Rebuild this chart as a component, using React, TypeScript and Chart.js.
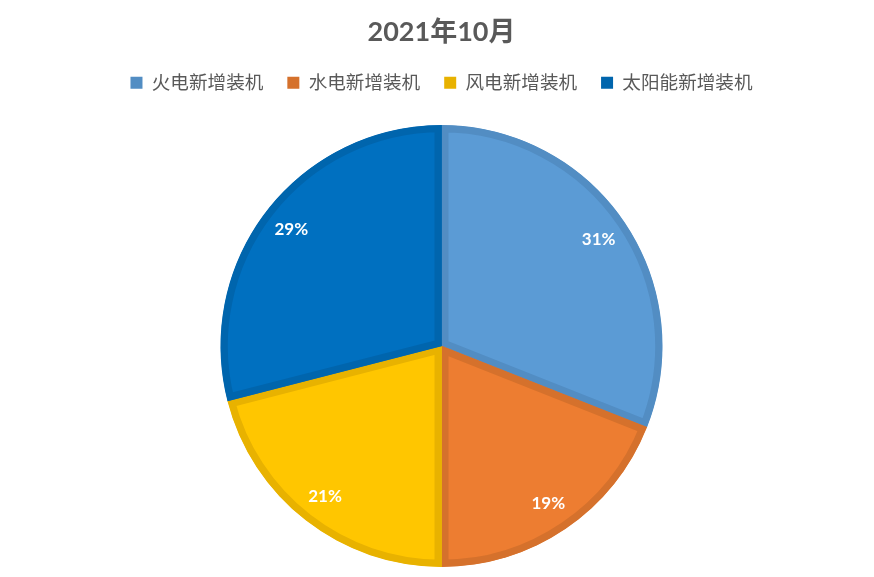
import React, { useEffect, useRef } from "react";
import { Chart, registerables } from "chart.js";

Chart.register(...registerables);

const titleText = "2021年10月";
const categories = ["火电新增装机", "水电新增装机", "风电新增装机", "太阳能新增装机"];
const values = [31, 19, 21, 29];
const fillColors = ["#5B9BD5", "#ED7D31", "#FFC600", "#0070C0"];
const borderColors = ["#528DC3", "#D5712C", "#E8B200", "#0065AD"];

const FONT = "Lato, 'Noto Sans CJK SC', sans-serif";

const legendGapPlugin = {
  id: "legendGap",
  beforeInit(chart: any) {
    const legend = chart.legend;
    if (legend) {
      const orig = legend.fit;
      legend.fit = function () {
        orig.call(this);
        this.height += 23;
      };
    }
  },
};

const pctLabelPlugin = {
  id: "pctLabels",
  afterDatasetsDraw(chart: any) {
    const ctx = chart.ctx;
    const meta = chart.getDatasetMeta(0);
    const data = chart.data.datasets[0].data as number[];
    const total = data.reduce((a, b) => a + b, 0);
    ctx.save();
    ctx.fillStyle = "#FFFFFF";
    ctx.font = `bold 17px ${FONT}`;
    ctx.textAlign = "center";
    ctx.textBaseline = "middle";
    meta.data.forEach((arc: any, i: number) => {
      const p = arc.getProps(["x", "y", "startAngle", "endAngle", "outerRadius"], true);
      const mid = (p.startAngle + p.endAngle) / 2;
      const r = p.outerRadius * 0.86;
      const pct = Math.round((data[i] / total) * 100);
      ctx.fillText(pct + "%", p.x + Math.cos(mid) * r, p.y + Math.sin(mid) * r);
    });
    ctx.restore();
  },
};

export default function App() {
  const ref = useRef<HTMLCanvasElement>(null);
  useEffect(() => {
    if (!ref.current) return;
    const chart = new Chart(ref.current, {
      type: "pie",
      data: {
        labels: categories,
        datasets: [
          {
            data: values,
            backgroundColor: fillColors,
            borderColor: borderColors,
            borderWidth: 7,
            borderAlign: "inner",
          } as any,
        ],
      },
      options: {
        responsive: false,
        animation: false,
        devicePixelRatio: 1,
        layout: { padding: { top: 0, bottom: 10, left: 9, right: 0 } },
        plugins: {
          title: {
            display: true,
            text: titleText,
            color: "#595959",
            font: { family: FONT, size: 27, weight: "bold" },
            padding: { top: 16, bottom: 1 },
          },
          legend: {
            display: true,
            position: "top",
            labels: {
              color: "#595959",
              font: { family: FONT, size: 18.6 },
              boxWidth: 12,
              boxHeight: 12,
              padding: 24,
              generateLabels: (c: any) =>
                categories.map((name, i) => ({
                  text: name,
                  fillStyle: borderColors[i],
                  strokeStyle: borderColors[i],
                  lineWidth: 0,
                  hidden: false,
                  index: i,
                  fontColor: "#595959",
                })),
            },
          },
          tooltip: { enabled: false },
        },
      },
      plugins: [legendGapPlugin, pctLabelPlugin],
    });
    return () => chart.destroy();
  }, []);
  return (
    <div style={{ position: "absolute", left: 0, top: 0, width: 874, height: 577, background: "#fff" }}>
      <canvas ref={ref} width={874} height={577} style={{ display: "block" }} />
    </div>
  );
}
